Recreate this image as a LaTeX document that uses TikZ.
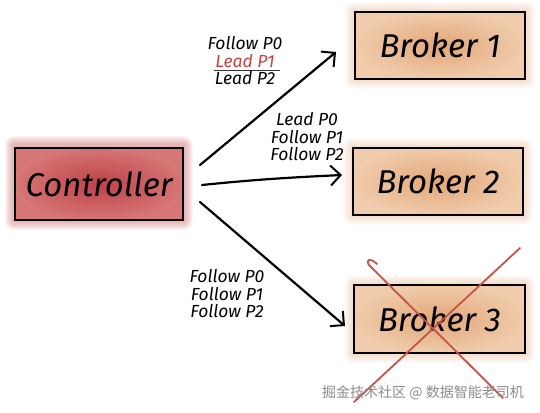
\documentclass[tikz,border=0pt]{standalone}
\usepackage{fontspec}
\setmainfont{Fira Sans}
\newfontfamily\cjk{Noto Sans CJK SC}
\usetikzlibrary{arrows.meta,calc,backgrounds}
\definecolor{ctrlred}{RGB}{190,66,72}
\definecolor{ctrlpale}{RGB}{214,118,118}
\definecolor{ctrlhalo}{RGB}{210,110,110}
\definecolor{peach}{RGB}{226,166,120}
\definecolor{peachpale}{RGB}{240,204,172}
\definecolor{peachhalo}{RGB}{232,180,140}
\definecolor{xred}{RGB}{196,84,72}
\definecolor{leadred}{RGB}{190,70,60}
\definecolor{wmgray}{RGB}{140,140,140}
\begin{document}
\begin{tikzpicture}[x=1pt,y=-1pt,
  box/.style={draw=black, line width=1.6pt, inner sep=0pt,
    font=\itshape\fontsize{33}{33}\selectfont},
  lbl/.style={font=\itshape\fontsize{17.5}{17.5}\selectfont, align=center},
  conn/.style={line width=2.2pt, line cap=round,
    -{Straight Barb[length=10pt,width=20pt,line width=2pt]}},
  cross/.style={draw=xred, line width=1.8pt, line cap=round, line join=round}]
\useasboundingbox (0,0) rectangle (540,412);

% boxes
\node[box, minimum width=168pt, minimum height=72pt] (ctrl) at (99,184) {Controller};
\node[box, minimum width=170pt, minimum height=67pt] (b1) at (440,45.5) {Broker 1};
\node[box, minimum width=170pt, minimum height=67pt] (b2) at (438,181.5) {Broker 2};
\node[box, minimum width=171pt, minimum height=68pt] (b3) at (439.5,319) {Broker 3};

% watercolour washes
\begin{scope}[on background layer]
  \fill[white] (0,0) rectangle (540,412);
  \foreach \d in {1,...,9} {
    \fill[ctrlhalo, opacity=0.07, rounded corners=\d pt]
      ($(ctrl.north west)+(-\d,-\d-2)$) rectangle ($(ctrl.south east)+(\d,\d)$);
    \foreach \b in {b1,b2,b3} {
      \fill[peachhalo, opacity=0.05, rounded corners=\d pt]
        ($(\b.north west)+(-\d,-\d)$) rectangle ($(\b.south east)+(\d,\d)$);
    }
  }
  \shade[inner color=ctrlred, outer color=ctrlpale]
    (ctrl.north west) rectangle (ctrl.south east);
  \foreach \b in {b1,b2,b3} {
    \shade[inner color=peach, outer color=peachpale]
      (\b.north west) rectangle (\b.south east);
  }
\end{scope}

% connectors
\coordinate (s1) at (200,165); \coordinate (e1) at (336,52);
\coordinate (s2) at (202,185); \coordinate (e2) at (342,175);
\coordinate (s3) at (200,202); \coordinate (e3) at (345,326);
\draw[conn] (s1) -- (e1);
\draw[conn] (s2) .. controls (260,179) and (300,177) .. (e2);
\draw[conn] (s3) -- (e3);

% labels
\node[lbl] (l1) at (245,61) {Follow P0\\\textcolor{leadred}{Lead P1}\\Lead P2};
\draw[line width=0.8pt, black!80] ($(l1.center)+(-31,9)$) -- ($(l1.center)+(35,9)$);
\node[lbl] (l2) at (307,137) {Lead P0\\Follow P1\\Follow P2};
\node[lbl] (l3) at (227,294) {Follow P0\\Follow P1\\Follow P2};

% red cross over Broker 3
\draw[cross] (377,264) .. controls (370,257) and (364,260) .. (370,266) -- (503,398);
\draw[cross] (520,248) -- (354,402);

% watermark
\node[font=\cjk\fontsize{14}{14}\selectfont, text=wmgray] (wm) at (423,393) {掘金技术社区 @ 数据智能老司机};
\end{tikzpicture}
\end{document}
